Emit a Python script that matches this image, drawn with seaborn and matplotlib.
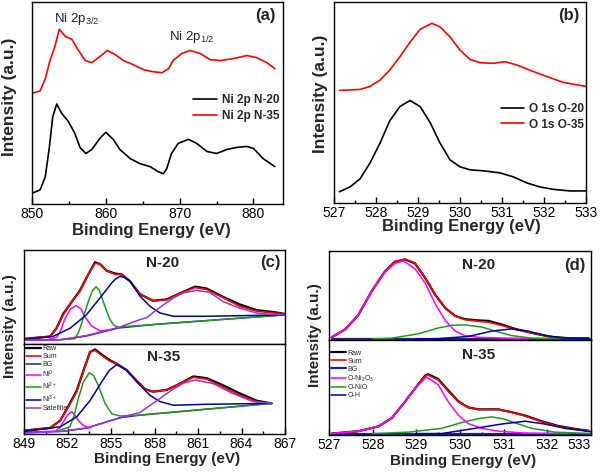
import seaborn as sns
import matplotlib.pyplot as plt
from matplotlib.ticker import MultipleLocator

# (a) Ni 2p spectra (normalised panel height)
a_x_n20 = [850.0, 851.1, 851.8, 852.35, 852.8, 853.35, 854.0, 854.9, 855.8, 856.5, 857.3, 858.1,
           859.2, 860.0, 861.0, 861.9, 863.3, 864.6, 866.0, 867.1, 867.8, 868.25, 868.9, 869.8,
           871.2, 872.3, 873.7, 875.0, 876.4, 877.7, 879.1, 880.0, 881.3, 882.9]
a_y_n20 = [0.053, 0.07, 0.135, 0.28, 0.43, 0.495, 0.45, 0.41, 0.35, 0.28, 0.25, 0.27,
           0.325, 0.355, 0.32, 0.27, 0.225, 0.20, 0.185, 0.16, 0.15, 0.175, 0.25, 0.30,
           0.32, 0.30, 0.26, 0.25, 0.27, 0.28, 0.285, 0.275, 0.225, 0.185]
a_x_n35 = [850.0, 851.1, 851.8, 852.4, 853.1, 853.7, 854.5, 855.4, 856.3, 857.2, 858.1, 859.2,
           860.2, 861.25, 862.4, 863.7, 865.1, 866.4, 867.6, 868.5, 869.1, 870.3, 871.4, 872.8,
           874.1, 875.5, 877.3, 879.1, 880.4, 881.8, 882.9]
a_y_n35 = [0.548, 0.56, 0.62, 0.705, 0.78, 0.865, 0.83, 0.815, 0.76, 0.71, 0.70, 0.73,
           0.76, 0.74, 0.71, 0.69, 0.665, 0.655, 0.65, 0.67, 0.71, 0.745, 0.76, 0.745,
           0.715, 0.71, 0.72, 0.735, 0.725, 0.70, 0.67]

# (b) O 1s spectra
b_x_o20 = [527.13, 527.38, 527.62, 527.86, 528.1, 528.33, 528.57, 528.81, 529.05, 529.29, 529.52,
           529.76, 530.0, 530.24, 530.56, 530.95, 531.27, 531.59, 531.9, 532.22, 532.62, 533.0]
b_y_o20 = [0.056, 0.08, 0.12, 0.20, 0.30, 0.41, 0.48, 0.51, 0.48, 0.40, 0.30,
           0.215, 0.18, 0.165, 0.16, 0.15, 0.13, 0.10, 0.08, 0.068, 0.06, 0.06]
b_x_o35 = [527.13, 527.62, 527.86, 528.1, 528.33, 528.57, 528.81, 529.05, 529.33, 529.52, 529.76,
           530.0, 530.24, 530.48, 530.79, 531.07, 531.35, 531.67, 532.06, 532.46, 533.0]
b_y_o35 = [0.56, 0.565, 0.58, 0.612, 0.662, 0.728, 0.80, 0.864, 0.894, 0.877, 0.827,
           0.761, 0.714, 0.698, 0.695, 0.703, 0.687, 0.66, 0.63, 0.60, 0.58]

# (c) Ni 2p3/2 fits, N-20 (top) and N-35 (bottom)
c1_x = [849.07, 850.8, 851.25, 851.7, 852.3, 852.86, 853.43, 853.9, 854.24, 854.7, 855.28, 855.74,
        856.3, 857.0, 857.9, 858.84, 859.76, 860.8, 861.6, 862.75, 863.9, 865.05, 866.2, 867.0]
c1_sum = [0.056, 0.08, 0.17, 0.31, 0.45, 0.56, 0.74, 0.86, 0.85, 0.78, 0.74, 0.74,
          0.67, 0.53, 0.46, 0.47, 0.54, 0.60, 0.58, 0.49, 0.40, 0.35, 0.33, 0.32]
c1_raw = [0.056, 0.08, 0.17, 0.32, 0.45, 0.57, 0.74, 0.87, 0.85, 0.78, 0.75, 0.74,
          0.67, 0.53, 0.46, 0.475, 0.54, 0.61, 0.59, 0.50, 0.42, 0.36, 0.34, 0.32]
c1_bg_x = [849.07, 851.5, 853.3, 855.5, 858.15, 867.0]
c1_bg_y = [0.04, 0.045, 0.085, 0.17, 0.21, 0.31]
c1_ni0_x = [849.07, 850.6, 851.25, 851.55, 851.8, 852.2, 852.59, 852.95, 853.2, 853.67, 854.24, 855.0]
c1_ni0_y = [0.04, 0.045, 0.07, 0.15, 0.26, 0.37, 0.41, 0.37, 0.29, 0.19, 0.14, 0.15]
c1_ni2_x = [851.5, 852.5, 852.75, 852.98, 853.2, 853.43, 853.7, 853.97, 854.2, 854.47, 854.7,
            854.93, 855.2, 855.5, 858.15, 867.0]
c1_ni2_y = [0.045, 0.056, 0.12, 0.22, 0.34, 0.45, 0.56, 0.61, 0.57, 0.45, 0.35,
            0.26, 0.20, 0.18, 0.21, 0.31]
c1_ni3_x = [849.07, 851.0, 852.2, 853.3, 854.24, 854.7, 855.05, 855.3, 855.62, 855.9, 856.3, 857.0,
            857.7, 858.38, 859.3, 861.6, 867.0]
c1_ni3_y = [0.05, 0.08, 0.17, 0.31, 0.49, 0.58, 0.65, 0.69, 0.72, 0.71, 0.67, 0.51,
            0.40, 0.33, 0.295, 0.295, 0.31]
c1_sat_x = [849.07, 851.5, 853.3, 855.6, 857.0, 857.46, 858.15, 859.3, 860.0, 860.9, 861.8,
            862.75, 863.9, 865.05, 866.0, 867.0]
c1_sat_y = [0.04, 0.045, 0.09, 0.18, 0.26, 0.28, 0.365, 0.49, 0.545, 0.57, 0.55,
            0.45, 0.38, 0.33, 0.315, 0.31]

c2_x = [849.07, 850.8, 851.5, 852.06, 852.63, 853.09, 853.55, 853.9, 854.47, 854.93, 855.5, 856.08,
        856.66, 857.34, 857.9, 858.84, 859.76, 860.68, 861.6, 862.75, 863.9, 865.05, 866.08]
c2_sum = [0.04, 0.067, 0.15, 0.30, 0.47, 0.69, 0.91, 0.93, 0.86, 0.81, 0.77, 0.71,
          0.61, 0.50, 0.47, 0.49, 0.56, 0.63, 0.61, 0.52, 0.43, 0.36, 0.34]
c2_raw = [0.04, 0.067, 0.15, 0.31, 0.48, 0.70, 0.91, 0.94, 0.87, 0.82, 0.77, 0.71,
          0.61, 0.50, 0.47, 0.49, 0.56, 0.64, 0.62, 0.54, 0.45, 0.37, 0.34]
c2_bg_x = [849.07, 851.7, 853.3, 855.6, 857.0, 866.08]
c2_bg_y = [0.02, 0.03, 0.065, 0.18, 0.21, 0.34]
c2_ni0_x = [849.07, 851.14, 851.45, 851.7, 852.0, 852.29, 852.55, 852.75, 853.05, 853.32, 853.55]
c2_ni0_y = [0.02, 0.03, 0.07, 0.13, 0.21, 0.25, 0.20, 0.15, 0.10, 0.08, 0.065]
c2_ni2_x = [851.25, 852.17, 852.45, 852.74, 853.1, 853.5, 853.8, 854.12, 854.59, 855.05, 855.62,
            857.0, 866.08]
c2_ni2_y = [0.03, 0.08, 0.20, 0.39, 0.58, 0.68, 0.65, 0.54, 0.34, 0.225, 0.20, 0.21, 0.34]
c2_ni3_x = [849.07, 851.5, 852.63, 853.55, 854.36, 854.9, 855.39, 856.08, 856.77, 857.69, 858.38,
            859.3, 861.6, 866.08]
c2_ni3_y = [0.03, 0.08, 0.19, 0.37, 0.58, 0.71, 0.77, 0.71, 0.58, 0.43, 0.36, 0.32, 0.33, 0.34]
c2_sat_x = [849.07, 851.7, 853.3, 855.62, 857.0, 858.15, 859.3, 860.0, 860.8, 862.05, 863.4,
            864.8, 866.08]
c2_sat_y = [0.01, 0.03, 0.067, 0.18, 0.24, 0.37, 0.50, 0.565, 0.60, 0.56, 0.45, 0.36, 0.34]

# (d) O 1s fits, N-20 (top) and N-35 (bottom)
d1_x = [527.06, 527.37, 527.67, 527.98, 528.28, 528.51, 528.74, 528.97, 529.2, 529.43, 529.66,
        529.89, 530.11, 530.42, 530.65, 530.95, 531.26, 531.64, 532.1, 532.5, 532.94]
d1_sum = [0.03, 0.12, 0.28, 0.55, 0.77, 0.88, 0.91, 0.865, 0.70, 0.51, 0.36,
          0.27, 0.23, 0.21, 0.20, 0.165, 0.12, 0.08, 0.03, 0.02, 0.02]
d1_raw = [0.03, 0.12, 0.28, 0.55, 0.77, 0.88, 0.905, 0.86, 0.70, 0.51, 0.36,
          0.27, 0.235, 0.22, 0.215, 0.175, 0.125, 0.08, 0.035, 0.02, 0.02]
d1_bg_x = [527.06, 533.0]
d1_bg_y = [0.012, 0.012]
d1_o1_x = [527.06, 527.37, 527.67, 527.98, 528.28, 528.51, 528.7, 528.97, 529.2, 529.43, 529.66,
           529.89, 530.11, 530.42, 531.1, 532.0]
d1_o1_y = [0.03, 0.12, 0.28, 0.55, 0.76, 0.86, 0.89, 0.80, 0.64, 0.41, 0.22,
           0.10, 0.05, 0.03, 0.02, 0.015]
d1_o2_x = [528.0, 528.43, 529.05, 529.5, 529.81, 530.11, 530.5, 530.88, 531.18, 531.64, 532.25, 533.0]
d1_o2_y = [0.012, 0.02, 0.07, 0.135, 0.165, 0.17, 0.145, 0.09, 0.05, 0.02, 0.015, 0.012]
d1_o3_x = [529.0, 529.5, 530.19, 530.73, 531.18, 531.56, 531.95, 532.4, 533.0]
d1_o3_y = [0.012, 0.015, 0.04, 0.10, 0.125, 0.10, 0.05, 0.02, 0.012]

d2_x = [527.06, 527.67, 528.13, 528.44, 528.74, 528.97, 529.2, 529.27, 529.5, 529.73, 529.96,
        530.19, 530.42, 530.88, 531.18, 531.49, 531.87, 532.25, 532.63, 532.94]
d2_sum = [0.015, 0.04, 0.09, 0.18, 0.35, 0.49, 0.62, 0.63, 0.58, 0.46, 0.35,
          0.29, 0.27, 0.27, 0.24, 0.20, 0.14, 0.09, 0.06, 0.045]
d2_raw = [0.015, 0.04, 0.09, 0.18, 0.35, 0.49, 0.625, 0.64, 0.59, 0.47, 0.355,
          0.29, 0.27, 0.27, 0.24, 0.205, 0.145, 0.095, 0.065, 0.045]
d2_bg_x = [527.06, 533.0]
d2_bg_y = [0.014, 0.014]
d2_o1_x = [527.06, 527.67, 528.13, 528.44, 528.74, 528.97, 529.23, 529.5, 529.73, 529.96, 530.19,
           530.5, 530.88, 531.49, 532.5]
d2_o1_y = [0.015, 0.04, 0.09, 0.18, 0.35, 0.49, 0.61, 0.53, 0.35, 0.21, 0.12,
           0.07, 0.04, 0.02, 0.015]
d2_o2_x = [528.0, 528.82, 529.58, 530.11, 530.45, 530.73, 531.0, 531.18, 531.64, 532.17, 533.0]
d2_o2_y = [0.014, 0.03, 0.07, 0.14, 0.175, 0.19, 0.17, 0.14, 0.07, 0.03, 0.015]
d2_o3_x = [529.0, 529.58, 530.34, 530.95, 531.49, 531.95, 532.4, 533.0]
d2_o3_y = [0.014, 0.015, 0.07, 0.115, 0.145, 0.115, 0.07, 0.035]

sns.set_theme(style="ticks")
plt.rcParams["font.family"] = ["Liberation Sans", "DejaVu Sans"]
plt.rcParams["mathtext.default"] = "regular"

RED, BLACK = "#ff0000", "#000000"
BG_C, NI0_C, NI2_C, NI3_C, SAT_C = "#22228a", "#ff00ff", "#1e9a1e", "#0000a0", "#9a30f0"

fig = plt.figure(figsize=(6, 4.72), dpi=100)


def px_axes(left, top, right, bottom):
    return fig.add_axes([left / 600, 1 - bottom / 472, (right - left) / 600, (bottom - top) / 472])


def style(ax, xlim, major, minor, labels=True):
    ax.set_xlim(*xlim)
    ax.set_ylim(0, 1)
    ax.set_yticks([])
    ax.set_xlabel("")
    ax.set_ylabel("")
    ax.xaxis.set_major_locator(MultipleLocator(major))
    ax.xaxis.set_minor_locator(MultipleLocator(minor))
    ax.tick_params(axis="x", which="both", direction="in", top=False, width=1,
                   labelsize=10, pad=2.5, colors="black")
    ax.tick_params(axis="x", which="major", length=4)
    ax.tick_params(axis="x", which="minor", length=2.5)
    if not labels:
        ax.tick_params(axis="x", which="both", labelbottom=False, length=0)
    for s in ax.spines.values():
        s.set_linewidth(1.0)
        s.set_color("black")


def line(ax, x, y, color, lw=1.2, label=None):
    sns.lineplot(x=x, y=y, ax=ax, color=color, lw=lw, sort=False, estimator=None, label=label)


small_legend = dict(loc="upper left", frameon=False, prop={"size": 5}, handlelength=2.2,
                    labelspacing=0.12, handletextpad=0.2, borderaxespad=0.2)

# panel (a)
ax_a = px_axes(32, 2, 283, 204)
line(ax_a, a_x_n20, a_y_n20, BLACK, label="Ni 2p N-20")
line(ax_a, a_x_n35, a_y_n35, RED, label="Ni 2p N-35")
style(ax_a, (850, 884), 10, 5)
ax_a.legend(loc="upper left", bbox_to_anchor=(0.6, 0.595), frameon=False,
            prop={"size": 8.5, "weight": "bold"}, handlelength=2.0, labelspacing=0.3,
            handletextpad=0.4)
ax_a.text(856, 0.915, "Ni 2p$_{3/2}$", ha="center", va="center", fontsize=9.5)
ax_a.text(871.7, 0.825, "Ni 2p$_{1/2}$", ha="center", va="center", fontsize=9.5)
ax_a.text(0.93, 0.935, "(a)", transform=ax_a.transAxes, ha="center", va="center",
          fontsize=12, fontweight="bold")

# panel (b)
ax_b = px_axes(334, 2, 586, 203)
line(ax_b, b_x_o20, b_y_o20, BLACK, label="O 1s O-20")
line(ax_b, b_x_o35, b_y_o35, RED, label="O 1s O-35")
style(ax_b, (527, 533), 1, 0.5)
ax_b.legend(loc="upper left", bbox_to_anchor=(0.62, 0.55), frameon=False,
            prop={"size": 8.5, "weight": "bold"}, handlelength=2.0, labelspacing=0.3,
            handletextpad=0.4)
ax_b.text(0.93, 0.935, "(b)", transform=ax_b.transAxes, ha="center", va="center",
          fontsize=12, fontweight="bold")

# panel (c)
ax_c1 = px_axes(24, 250, 285, 344)
ax_c2 = px_axes(24, 344, 285, 434)
for ax, x, raw, sm, bg, ni0, ni2, ni3, sat, lab in [
    (ax_c1, c1_x, c1_raw, c1_sum, (c1_bg_x, c1_bg_y), (c1_ni0_x, c1_ni0_y), (c1_ni2_x, c1_ni2_y),
     (c1_ni3_x, c1_ni3_y), (c1_sat_x, c1_sat_y), False),
    (ax_c2, c2_x, c2_raw, c2_sum, (c2_bg_x, c2_bg_y), (c2_ni0_x, c2_ni0_y), (c2_ni2_x, c2_ni2_y),
     (c2_ni3_x, c2_ni3_y), (c2_sat_x, c2_sat_y), True)]:
    line(ax, x, raw, BLACK, lw=1.6, label="Raw" if lab else None)
    line(ax, x, sm, RED, lw=1.2, label="Sum" if lab else None)
    line(ax, *bg, BG_C, lw=1.1, label="BG" if lab else None)
    line(ax, *ni0, NI0_C, lw=1.1, label="Ni$^{0}$" if lab else None)
    line(ax, *ni2, NI2_C, lw=1.1, label="Ni$^{2+}$" if lab else None)
    line(ax, *ni3, NI3_C, lw=1.1, label="Ni$^{3+}$" if lab else None)
    line(ax, *sat, SAT_C, lw=1.1, label="Satellite" if lab else None)
style(ax_c1, (849, 867), 3, 1.5, labels=False)
style(ax_c2, (849, 867), 3, 1.5)
if ax_c1.get_legend():
    ax_c1.get_legend().remove()
ax_c2.legend(bbox_to_anchor=(-0.01, 1.03), **small_legend)
ax_c1.text(0.53, 0.86, "N-20", transform=ax_c1.transAxes, ha="center", va="center",
           fontsize=11, fontweight="bold")
ax_c2.text(0.535, 0.855, "N-35", transform=ax_c2.transAxes, ha="center", va="center",
           fontsize=11, fontweight="bold")
ax_c1.text(0.945, 0.87, "(c)", transform=ax_c1.transAxes, ha="center", va="center",
           fontsize=12, fontweight="bold")

# panel (d)
ax_d1 = px_axes(329, 251, 591, 340)
ax_d2 = px_axes(329, 340, 591, 435)
for ax, x, raw, sm, bg, o1, o2, o3, lab in [
    (ax_d1, d1_x, d1_raw, d1_sum, (d1_bg_x, d1_bg_y), (d1_o1_x, d1_o1_y), (d1_o2_x, d1_o2_y),
     (d1_o3_x, d1_o3_y), False),
    (ax_d2, d2_x, d2_raw, d2_sum, (d2_bg_x, d2_bg_y), (d2_o1_x, d2_o1_y), (d2_o2_x, d2_o2_y),
     (d2_o3_x, d2_o3_y), True)]:
    line(ax, x, raw, BLACK, lw=1.6, label="Raw" if lab else None)
    line(ax, x, sm, RED, lw=1.2, label="Sum" if lab else None)
    line(ax, *bg, BG_C, lw=1.6, label="BG" if lab else None)
    line(ax, *o1, NI0_C, lw=1.1, label="O-Ni$_2$O$_3$" if lab else None)
    line(ax, *o2, NI2_C, lw=1.1, label="O-NiO" if lab else None)
    line(ax, *o3, NI3_C, lw=1.1, label="O-H" if lab else None)
style(ax_d1, (527, 533), 1, 0.5, labels=False)
style(ax_d2, (527, 533), 1, 0.5)
if ax_d1.get_legend():
    ax_d1.get_legend().remove()
ax_d2.legend(bbox_to_anchor=(-0.01, 0.94), **small_legend)
ax_d1.text(0.57, 0.84, "N-20", transform=ax_d1.transAxes, ha="center", va="center",
           fontsize=11, fontweight="bold")
ax_d2.text(0.57, 0.84, "N-35", transform=ax_d2.transAxes, ha="center", va="center",
           fontsize=11, fontweight="bold")
ax_d1.text(0.94, 0.84, "(d)", transform=ax_d1.transAxes, ha="center", va="center",
           fontsize=12, fontweight="bold")

# shared axis labels
for xc, yc, fs in [(151, 230, 12), (461, 227, 12), (167, 459, 11), (463, 461, 11)]:
    fig.text(xc / 600, 1 - yc / 472, "Binding Energy (eV)", ha="center", va="center",
             fontsize=fs, fontweight="bold")
for xc, yc, fs in [(10, 97, 12.5), (320, 94, 12.5), (10, 326, 11), (315, 335, 11)]:
    fig.text(xc / 600, 1 - yc / 472, "Intensity (a.u.)", ha="center", va="center",
             rotation=90, fontsize=fs, fontweight="bold")

# keep the last (d) tick label inside the figure edge
fig.canvas.draw()
for t in ax_d2.get_xticklabels():
    if t.get_text() == "533":
        t.set_horizontalalignment("right")
        t.set_x(533.09)

fig.savefig("out.png", dpi=100)
